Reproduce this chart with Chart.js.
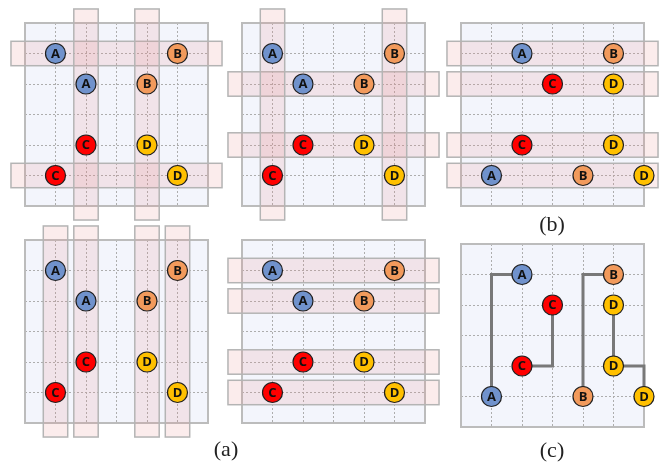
<!DOCTYPE html>
<html>
<head>
<meta charset="utf-8">
<script src="https://cdn.jsdelivr.net/npm/chart.js@4.4.1/dist/chart.umd.min.js"></script>
<style>
  html, body { margin: 0; padding: 0; background: #ffffff; }
  #stage { position: relative; width: 662px; height: 466px; overflow: hidden; }
  .panel { position: absolute; }
  .cap { position: absolute; font-family: "Liberation Serif", "DejaVu Serif", serif; font-size: 22px; color: #222; transform: translate(-50%, -50%); white-space: nowrap; }
</style>
</head>
<body>
<div id="stage"></div>
<script>
// Grid cells (column, row) of every module, before and after placement
const startA = [[1, 1], [2, 2]];
const startB = [[5, 1], [4, 2]];
const startC = [[2, 4], [1, 5]];
const startD = [[4, 4], [5, 5]];

const endA = [[2, 1], [1, 5]];
const endB = [[5, 1], [4, 5]];
const endC = [[3, 2], [2, 4]];
const endD = [[5, 2], [5, 4], [6, 5]];

// Wire routes joining modules of the same net
const routeA = [[1, 5], [1, 1], [2, 1]];
const routeB = [[4, 5], [4, 1], [5, 1]];
const routeC = [[2, 4], [3, 4], [3, 2]];
const routeD = [[5, 2], [5, 4], [6, 4], [6, 5]];

// Highlighted rows / columns in each view
const rowsP1 = [1, 5];
const colsP1 = [2, 4];
const rowsP2 = [2, 4];
const colsP2 = [1, 5];
const rowsP3 = [1, 2, 4, 5];
const colsP4 = [1, 2, 4, 5];
const rowsP5 = [1, 2, 4, 5];

const captions = ['(a)', '(b)', '(c)'];

const COLORS = { A: '#7092cc', B: '#f29a5c', C: '#ff0000', D: '#ffc000' };
const GRID_N = 6;
const CELL = 30.5;
const BOX = GRID_N * CELL;
const PAD = 20;
const BAND_HALF = 0.4;   // half thickness of a band, in cells
const BAND_OVER = 0.46;  // how far a band runs past the box, in cells

function pts(list) { return list.map(p => ({ x: p[0], y: p[1] })); }

function moduleSets(a, b, c, d) {
  return [['A', a], ['B', b], ['C', c], ['D', d]].map(([name, list]) => ({
    label: name,
    data: pts(list),
    backgroundColor: COLORS[name],
    borderColor: '#1e1e1e',
    borderWidth: 1.2,
    pointRadius: 10,
    pointHoverRadius: 10,
    showLine: false,
    clip: false,
    order: 1
  }));
}

function routeSets(routes) {
  return routes.map(r => ({
    label: 'route',
    data: pts(r),
    showLine: true,
    borderColor: '#787878',
    borderWidth: 3,
    pointRadius: 0,
    fill: false,
    clip: false,
    order: 2,
    borderJoinStyle: 'miter'
  }));
}

const panelPlugin = {
  id: 'panelPlugin',
  beforeDraw(chart) {
    const { ctx, chartArea: a } = chart;
    ctx.save();
    ctx.fillStyle = '#f3f5fc';
    ctx.fillRect(a.left, a.top, a.right - a.left, a.bottom - a.top);
    ctx.restore();
  },
  beforeDatasetsDraw(chart) {
    const { ctx, chartArea: a, scales: { x, y } } = chart;
    const o = chart.options.plugins.panelPlugin;
    ctx.save();
    ctx.strokeStyle = '#bcbcbc';
    ctx.lineWidth = 2;
    ctx.strokeRect(a.left, a.top, a.right - a.left, a.bottom - a.top);
    ctx.fillStyle = 'rgba(232, 140, 140, 0.17)';
    ctx.strokeStyle = '#b4b4b4';
    ctx.lineWidth = 1.5;
    (o.rows || []).forEach(r => {
      const x0 = x.getPixelForValue(-BAND_OVER), x1 = x.getPixelForValue(GRID_N + BAND_OVER);
      const y0 = y.getPixelForValue(r - BAND_HALF), y1 = y.getPixelForValue(r + BAND_HALF);
      ctx.fillRect(x0, y0, x1 - x0, y1 - y0);
      ctx.strokeRect(x0, y0, x1 - x0, y1 - y0);
    });
    (o.cols || []).forEach(c => {
      const x0 = x.getPixelForValue(c - BAND_HALF), x1 = x.getPixelForValue(c + BAND_HALF);
      const y0 = y.getPixelForValue(-BAND_OVER), y1 = y.getPixelForValue(GRID_N + BAND_OVER);
      ctx.fillRect(x0, y0, x1 - x0, y1 - y0);
      ctx.strokeRect(x0, y0, x1 - x0, y1 - y0);
    });
    ctx.restore();
  },
  afterDatasetsDraw(chart) {
    const { ctx } = chart;
    ctx.save();
    ctx.font = 'bold 13px "Open Sans", "DejaVu Sans", sans-serif';
    ctx.fillStyle = '#111';
    ctx.textAlign = 'center';
    ctx.textBaseline = 'middle';
    chart.data.datasets.forEach((ds, i) => {
      if (ds.label === 'route') return;
      chart.getDatasetMeta(i).data.forEach(el => {
        ctx.fillText(ds.label, el.x, el.y + 0.5);
      });
    });
    ctx.restore();
  }
};

function axis(reverse) {
  return {
    type: 'linear',
    min: 0,
    max: GRID_N,
    reverse: reverse,
    ticks: { display: false, stepSize: 1 },
    grid: {
      drawTicks: false,
      lineWidth: 1,
      color: c => (c.tick && (c.tick.value === 0 || c.tick.value === GRID_N)) ? 'rgba(0,0,0,0)' : '#adadad'
    },
    border: { display: false, dash: [2, 2] }
  };
}

function makePanel(left, top, datasets, rows, cols) {
  const stage = document.getElementById('stage');
  const wrap = document.createElement('div');
  wrap.className = 'panel';
  const size = BOX + 2 * PAD;
  wrap.style.left = (left - PAD) + 'px';
  wrap.style.top = (top - PAD) + 'px';
  wrap.style.width = size + 'px';
  wrap.style.height = size + 'px';
  const cv = document.createElement('canvas');
  cv.width = size;
  cv.height = size;
  wrap.appendChild(cv);
  stage.appendChild(wrap);
  new Chart(cv, {
    type: 'scatter',
    data: { datasets },
    options: {
      responsive: false,
      animation: false,
      events: [],
      layout: { padding: PAD },
      scales: { x: axis(false), y: axis(true) },
      plugins: {
        legend: { display: false },
        tooltip: { enabled: false },
        panelPlugin: { rows, cols }
      }
    },
    plugins: [panelPlugin]
  });
}

makePanel(25, 23, moduleSets(startA, startB, startC, startD), rowsP1, colsP1);
makePanel(242, 23, moduleSets(startA, startB, startC, startD), rowsP2, colsP2);
makePanel(461, 23, moduleSets(endA, endB, endC, endD), rowsP3, []);
makePanel(25, 240, moduleSets(startA, startB, startC, startD), [], colsP4);
makePanel(242, 240, moduleSets(startA, startB, startC, startD), rowsP5, []);
makePanel(461, 244, routeSets([routeA, routeB, routeC, routeD]).concat(moduleSets(endA, endB, endC, endD)), [], []);

const capPos = [[226, 449], [552, 224], [552, 450]];
captions.forEach((t, i) => {
  const d = document.createElement('div');
  d.className = 'cap';
  d.textContent = t;
  d.style.left = capPos[i][0] + 'px';
  d.style.top = capPos[i][1] + 'px';
  document.getElementById('stage').appendChild(d);
});
</script>
</body>
</html>
